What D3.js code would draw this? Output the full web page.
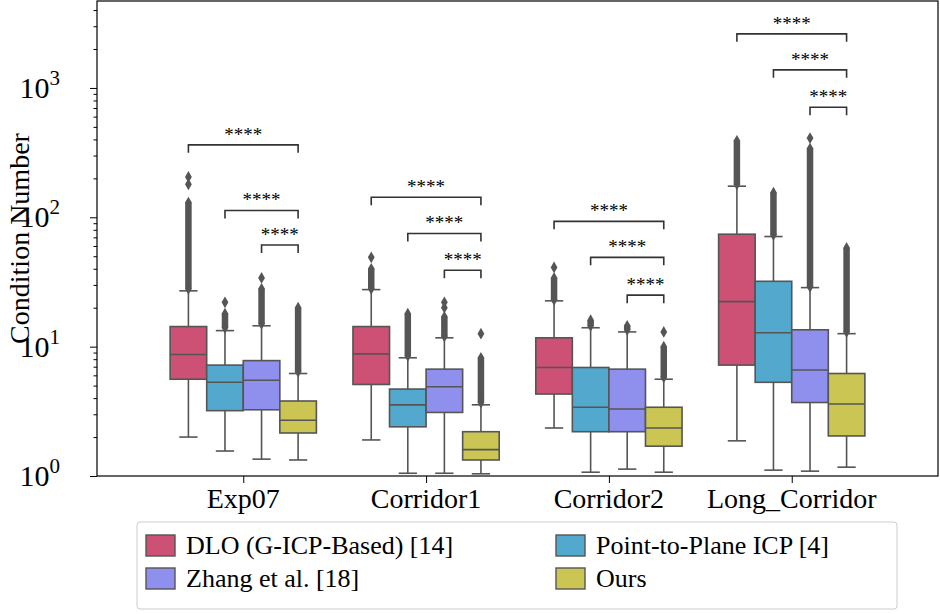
<!DOCTYPE html>
<html><head><meta charset="utf-8">
<script src="https://cdn.jsdelivr.net/npm/d3@7"></script>
<style>body{margin:0;background:#fff}text{font-family:"Liberation Serif","Times New Roman",serif}</style>
</head><body><svg id="chart" width="940" height="614"></svg>
<script>
"use strict";

const categories = ['Exp07', 'Corridor1', 'Corridor2', 'Long_Corridor'];
const methods = ['DLO (G-ICP-Based) [14]', 'Point-to-Plane ICP [4]', 'Zhang et al. [18]', 'Ours'];
const colors = ['#cc5175', '#53a9cd', '#8f8fee', '#cbc653'];
const yTicks = [1, 10, 100, 1000];

// [low whisker, q1, median, q3, high whisker] per category, per method
const dloStats = [[2.0, 5.6, 8.7, 14.3, 27], [1.9, 5.1, 8.8, 14.3, 27.6], [2.35, 4.3, 6.9, 11.7, 22.6], [1.87, 7.2, 22.3, 74, 174]];
const ptpStats = [[1.56, 3.2, 5.3, 7.2, 13.3], [1.05, 2.4, 3.55, 4.7, 8.2], [1.07, 2.2, 3.4, 6.9, 14], [1.11, 5.3, 12.8, 32, 71]];
const zhangStats = [[1.35, 3.25, 5.5, 7.8, 14.5], [1.05, 3.1, 4.9, 6.7, 11.7], [1.13, 2.2, 3.3, 6.7, 13], [1.09, 3.7, 6.6, 13.5, 28.6]];
const oursStats = [[1.33, 2.15, 2.7, 3.8, 6.2], [1.04, 1.33, 1.6, 2.2, 3.55], [1.07, 1.7, 2.35, 3.4, 5.6], [1.17, 2.04, 3.6, 6.2, 12.6]];

// dense outlier range [from, to] and isolated outliers
const dloOut = [[28, 130, [180, 205]], [28, 40, [49]], [23, 34, [41]], [180, 390, []]];
const ptpOut = [[14, 18, [22]], [8.5, 18, []], [14.5, 16, []], [73, 155, []]];
const zhangOut = [[15, 28, [34]], [12, 17, [20, 22]], [13.5, 14.5, []], [29, 340, [410]]];
const oursOut = [[6.4, 20, []], [3.7, 8.2, [12.6]], [5.8, 10, [13]], [13, 58, []]];

// significance brackets: height of bracket for method i vs Ours
const bracketY = [[363, 113, 61], [143, 75, 39], [93, 49, 25], [2620, 1380, 710]];

const stats = [dloStats, ptpStats, zhangStats, oursStats];
const outs = [dloOut, ptpOut, zhangOut, oursOut];

const svg = d3.select('#chart');
const L = 97, R = 938, T = 1, B = 476;
const x = d3.scaleLinear().domain([-0.8, 3.8]).range([L, R]);
const y = d3.scaleLog().domain([1, 4700]).range([B, T]);
const off = [-0.3, -0.1, 0.1, 0.3], bw = 0.2;
const edge = '#555555';

const g = svg.append('g');

stats.forEach(function (ms, m) {
  categories.forEach(function (c, i) {
    const s = ms[i], cx = x(i + off[m]);
    const x0 = x(i + off[m] - bw / 2), x1 = x(i + off[m] + bw / 2);
    const cap = (x1 - x0) / 4;
    // whiskers
    g.append('line').attr('x1', cx).attr('x2', cx).attr('y1', y(s[0])).attr('y2', y(s[1])).attr('stroke', edge).attr('stroke-width', 1.6);
    g.append('line').attr('x1', cx).attr('x2', cx).attr('y1', y(s[3])).attr('y2', y(s[4])).attr('stroke', edge).attr('stroke-width', 1.6);
    [s[0], s[4]].forEach(function (v) {
      g.append('line').attr('x1', cx - cap).attr('x2', cx + cap).attr('y1', y(v)).attr('y2', y(v)).attr('stroke', edge).attr('stroke-width', 1.6);
    });
    g.append('rect').attr('x', x0).attr('width', x1 - x0).attr('y', y(s[3])).attr('height', y(s[1]) - y(s[3]))
      .attr('fill', colors[m]).attr('stroke', edge).attr('stroke-width', 1.6);
    g.append('line').attr('x1', x0).attr('x2', x1).attr('y1', y(s[2])).attr('y2', y(s[2])).attr('stroke', edge).attr('stroke-width', 1.6);
    // outliers
    const o = outs[m][i];
    g.append('line').attr('x1', cx).attr('x2', cx).attr('y1', y(o[0])).attr('y2', y(o[1]))
      .attr('stroke', edge).attr('stroke-width', 6.5);
    const diamond = d3.symbol().type(d3.symbolDiamond).size(40);
    [o[0], o[1]].concat(o[2]).forEach(function (v) {
      g.append('path').attr('d', diamond).attr('transform', 'translate(' + cx + ',' + y(v) + ')').attr('fill', edge);
    });
  });
});

// brackets
bracketY.forEach(function (b, i) {
  b.forEach(function (v, m) {
    const xa = x(i + off[m]), xb = x(i + off[3]), yy = y(v);
    g.append('path').attr('d', 'M' + xa + ',' + (yy + 8) + 'V' + yy + 'H' + xb + 'V' + (yy + 8))
      .attr('fill', 'none').attr('stroke', '#333').attr('stroke-width', 1.6);
    g.append('text').attr('x', (xa + xb) / 2).attr('y', yy - 4).attr('text-anchor', 'middle')
      .attr('font-size', 19).text('****');
  });
});

// frame
svg.append('rect').attr('x', L).attr('y', T).attr('width', R - L).attr('height', B - T)
  .attr('fill', 'none').attr('stroke', '#000').attr('stroke-width', 1.2);

// y axis
const yAxis = d3.axisLeft(y).tickValues(yTicks).tickSize(7).tickFormat('');
svg.append('g').attr('transform', 'translate(' + L + ',0)').call(yAxis).call(function (a) { a.select('.domain').remove(); });
const minor = [];
[1, 10, 100, 1000].forEach(function (d) { for (let k = 2; k <= 9; k++) if (d * k < 4700) minor.push(d * k); });
svg.append('g').attr('transform', 'translate(' + L + ',0)')
  .call(d3.axisLeft(y).tickValues(minor).tickSize(3.5).tickFormat(''))
  .call(function (a) { a.select('.domain').remove(); });
yTicks.forEach(function (v) {
  const t = svg.append('text').attr('x', 60).attr('y', y(v) + 10).attr('text-anchor', 'end').attr('font-size', 30);
  t.append('tspan').text('10');
  t.append('tspan').attr('dy', -13).attr('font-size', 21).text(Math.round(Math.log10(v)));
});
svg.append('text').attr('transform', 'translate(29,' + ((T + B) / 2) + ') rotate(-90)')
  .attr('text-anchor', 'middle').attr('font-size', 28).text('Condition Number');

// x axis
svg.append('g').attr('transform', 'translate(0,' + B + ')')
  .call(d3.axisBottom(x).tickValues([0, 1, 2, 3]).tickSize(7).tickFormat(''))
  .call(function (a) { a.select('.domain').remove(); });
categories.forEach(function (c, i) {
  svg.append('text').attr('x', x(i)).attr('y', 508).attr('text-anchor', 'middle').attr('font-size', 28).text(c);
});

// legend
const lg = svg.append('g');
lg.append('rect').attr('x', 137).attr('y', 522).attr('width', 760).attr('height', 87).attr('rx', 3)
  .attr('fill', '#fff').attr('stroke', '#ccc');
const order = [0, 1, 2, 3];
order.forEach(function (m) {
  const col = m % 2, row = Math.floor(m / 2);
  const lx = col === 0 ? 146 : 556, ly = 535 + row * 33;
  lg.append('rect').attr('x', lx).attr('y', ly).attr('width', 29).attr('height', 21)
    .attr('fill', colors[m]).attr('stroke', edge).attr('stroke-width', 1.4);
  lg.append('text').attr('x', lx + 40).attr('y', ly + 19).attr('font-size', 26).text(methods[m]);
});
</script></body></html>
